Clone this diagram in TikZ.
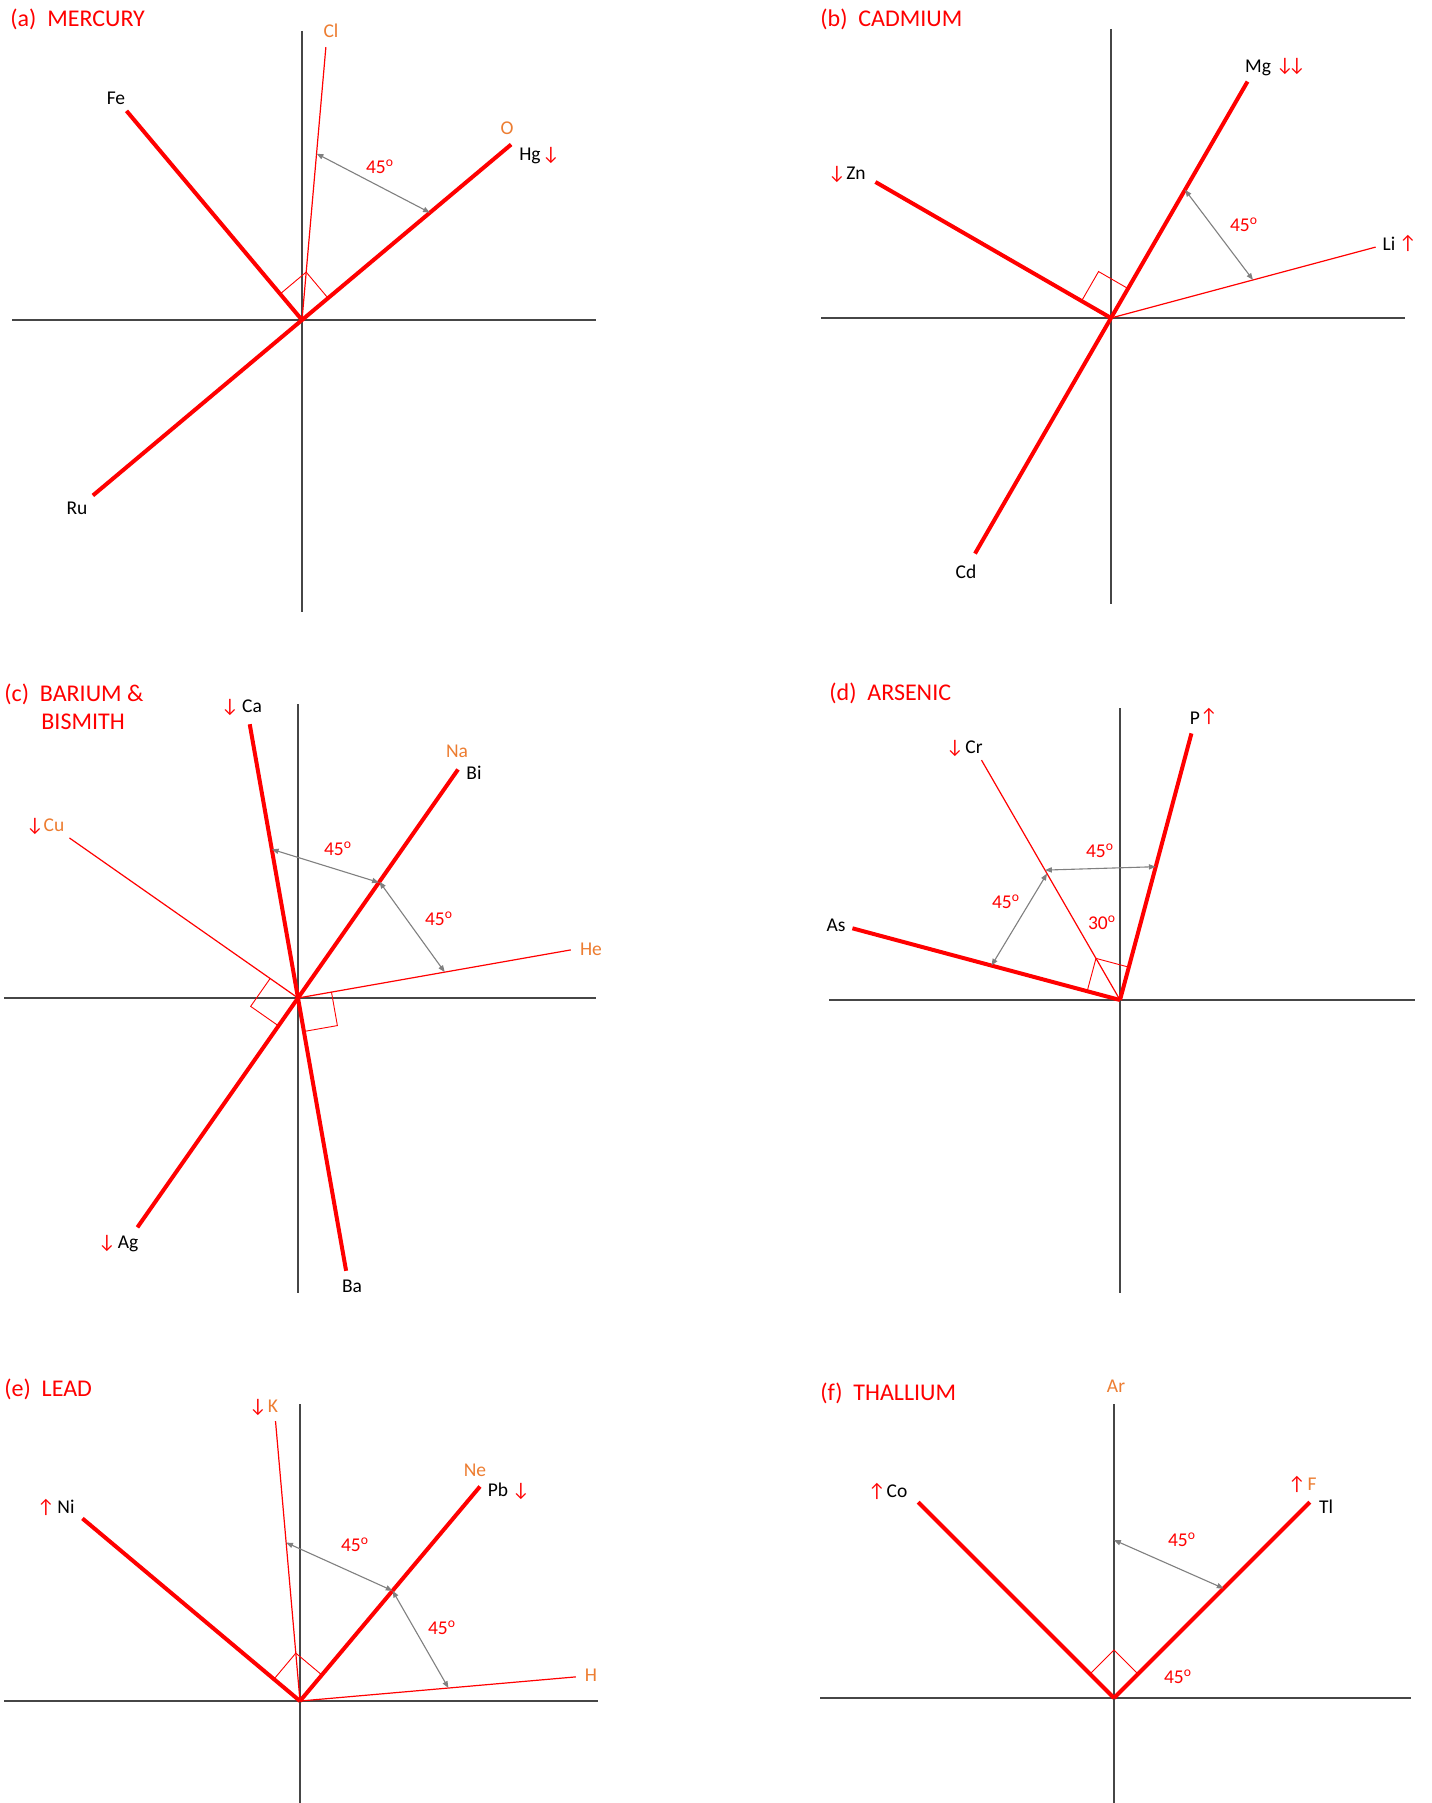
\documentclass[tikz,border=0pt]{standalone}
\usepackage{fontspec}
\setmainfont{Carlito}
\usetikzlibrary{arrows.meta,calc}
\definecolor{orng}{RGB}{237,125,49}
\definecolor{axc}{RGB}{70,70,70}
\definecolor{garr}{RGB}{128,128,128}
\tikzset{
 axisline/.style={draw=axc, line width=0.65pt},
 bond/.style={draw=red, line width=2pt},
 thinbond/.style={draw=red, line width=0.6pt},
 rangle/.style={draw=red, line width=0.45pt},
 angarrow/.style={draw=garr, line width=0.55pt, {Triangle[length=3.4pt,width=2.6pt]}-{Triangle[length=3.4pt,width=2.6pt]}},
 lbl/.style={inner sep=0pt, font=\fontsize{9.75}{11}\selectfont, text height=6.3pt, text depth=0pt, anchor=center},
 olbl/.style={lbl, text=orng},
 rlbl/.style={lbl, text=red},
 ttl/.style={inner sep=0pt, font=\fontsize{12}{14}\selectfont, text=red, anchor=west, text height=7.7pt, text depth=0pt},
}
\newcommand{\degl}{45\textsuperscript{o}}
\begin{document}
\begin{tikzpicture}[x=0.5pt,y=-0.5pt]
\fill[white] (0,0) rectangle (1431,1803);
\useasboundingbox (0,0) rectangle (1431,1803);

% ---------------- (a) MERCURY
\begin{scope}[shift={(302,320)}, yscale=-1]
 \coordinate (aO) at (0,0);
 \coordinate (aN) at (0,289); \coordinate (aS) at (0,-292);
 \coordinate (aW) at (-290,0); \coordinate (aE) at (294,0);
 \draw[axisline] (aN) -- (aS); \draw[axisline] (aW) -- (aE);
 \coordinate (aHg) at (40:273); \coordinate (aRu) at (220:273);
 \coordinate (aFe) at (130:273); \coordinate (aCl) at (85:274);
 \coordinate (aR1) at (130:34); \coordinate (aR2) at (85:48.08); \coordinate (aR3) at (40:34);
 \coordinate (aA1) at (85:167); \coordinate (aA2) at (40:167);
 \draw[thinbond] (aO) -- (aCl);
 \draw[rangle] (aR1) -- (aR2) -- (aR3);
 \draw[bond] (aRu) -- (aHg);
 \draw[bond] (aO) -- (aFe);
 \draw[angarrow] (aA1) -- (aA2);
\end{scope}
\node[ttl] (aT) at (10,19) {(a)\ \ MERCURY};
\node[olbl] (aClL) at (331,31) {Cl};
\node[lbl] (aFeL) at (116,98) {Fe};
\node[olbl] (aOL) at (507,128) {O};
\node[lbl] (aHgL) at (530,154) {Hg};
\node[rlbl] (aHgA) at (551,154) {↓};
\node[lbl] (aRuL) at (77,508) {Ru};
\node[rlbl] (aAng) at (380,167) {\degl};

% ---------------- (b) CADMIUM
\begin{scope}[shift={(1111,318)}, yscale=-1]
 \coordinate (bO) at (0,0);
 \coordinate (bN) at (0,289); \coordinate (bS) at (0,-286);
 \coordinate (bW) at (-290,0); \coordinate (bE) at (294,0);
 \draw[axisline] (bN) -- (bS); \draw[axisline] (bW) -- (bE);
 \coordinate (bMg) at (60:273); \coordinate (bCd) at (240:272);
 \coordinate (bZn) at (150:272); \coordinate (bLi) at (15:274);
 \coordinate (bR1) at (150:34); \coordinate (bR2) at (105:48.08); \coordinate (bR3) at (60:34);
 \coordinate (bA1) at (60:148); \coordinate (bA2) at (15:147);
 \draw[thinbond] (bO) -- (bLi);
 \draw[rangle] (bR1) -- (bR2) -- (bR3);
 \draw[bond] (bCd) -- (bMg);
 \draw[bond] (bO) -- (bZn);
 \draw[angarrow] (bA1) -- (bA2);
\end{scope}
\node[ttl] (bT) at (820,19) {(b)\ \ CADMIUM};
\node[lbl] (bMgL) at (1258,66) {Mg};
\node[rlbl] (bMgA) at (1285,65) {↓};
\node[rlbl] (bMgB) at (1297,65) {↓};
\node[rlbl] (bZnA) at (837,173) {↓};
\node[lbl] (bZnL) at (856,173) {Zn};
\node[lbl] (bLiL) at (1389,244) {Li};
\node[rlbl] (bLiA) at (1408,243) {↑};
\node[lbl] (bCdL) at (966,572) {Cd};
\node[rlbl] (bAng) at (1244,225) {\degl};

% ---------------- (c) BARIUM & BISMITH
\begin{scope}[shift={(298,998)}, yscale=-1]
 \coordinate (cO) at (0,0);
 \coordinate (cN) at (0,294); \coordinate (cS) at (0,-295);
 \coordinate (cW) at (-294,0); \coordinate (cE) at (298,0);
 \draw[axisline] (cN) -- (cS); \draw[axisline] (cW) -- (cE);
 \coordinate (cCa) at (100:278); \coordinate (cBa) at (280:277);
 \coordinate (cBi) at (55:279); \coordinate (cAg) at (235:280);
 \coordinate (cHe) at (10:277); \coordinate (cCu) at (145:279);
 \coordinate (cR1) at (145:34); \coordinate (cR2) at (190:48.08); \coordinate (cR3) at (235:34);
 \coordinate (cQ1) at (10:34); \coordinate (cQ2) at (325:48.08); \coordinate (cQ3) at (280:34);
 \coordinate (cA1) at (100:151); \coordinate (cA2) at (55:141);
 \coordinate (cB1) at (55:142); \coordinate (cB2) at (10:149);
 \draw[thinbond] (cO) -- (cHe);
 \draw[thinbond] (cO) -- (cCu);
 \draw[rangle] (cR1) -- (cR2) -- (cR3);
 \draw[rangle] (cQ1) -- (cQ2) -- (cQ3);
 \draw[bond] (cBa) -- (cCa);
 \draw[bond] (cAg) -- (cBi);
 \draw[angarrow] (cA1) -- (cA2);
 \draw[angarrow] (cB1) -- (cB2);
\end{scope}
\node[ttl] (cT) at (4,694) {(c)\ \ BARIUM \&};
\node[ttl] (cT2) at (41,722) {BISMITH};
\node[rlbl] (cCaA) at (230,706) {↓};
\node[lbl] (cCaL) at (252,706) {Ca};
\node[olbl] (cNaL) at (457,751) {Na};
\node[lbl] (cBiL) at (474,773) {Bi};
\node[rlbl] (cCuA) at (35,825) {↓};
\node[olbl] (cCuL) at (54,825) {Cu};
\node[olbl] (cHeL) at (591,949) {He};
\node[rlbl] (cAgA) at (107,1242) {↓};
\node[lbl] (cAgL) at (128,1242) {Ag};
\node[lbl] (cBaL) at (352,1286) {Ba};
\node[rlbl] (cAng1) at (338,849) {\degl};
\node[rlbl] (cAng2) at (439,919) {\degl};

% ---------------- (d) ARSENIC
\begin{scope}[shift={(1120,1000)}, yscale=-1]
 \coordinate (dO) at (0,0);
 \coordinate (dN) at (0,292); \coordinate (dS) at (0,-293);
 \coordinate (dW) at (-291,0); \coordinate (dE) at (295,0);
 \draw[axisline] (dN) -- (dS); \draw[axisline] (dW) -- (dE);
 \coordinate (dP) at (75:276); \coordinate (dAs) at (165:277); \coordinate (dCr) at (120:277);
 \coordinate (dR1) at (165:34); \coordinate (dR2) at (120:48.08); \coordinate (dR3) at (75:34);
 \coordinate (dA1) at (120:150); \coordinate (dA2) at (75:138);
 \coordinate (dB1) at (120:146); \coordinate (dB2) at (165:133);
 \draw[thinbond] (dO) -- (dCr);
 \draw[rangle] (dR1) -- (dR2) -- (dR3);
 \draw[bond] (dO) -- (dP);
 \draw[bond] (dO) -- (dAs);
 \draw[angarrow] (dA1) -- (dA2);
 \draw[angarrow] (dB1) -- (dB2);
\end{scope}
\node[ttl] (dT) at (829,693) {(d)\ \ ARSENIC};
\node[lbl] (dPL) at (1195,718) {P};
\node[rlbl] (dPA) at (1209,716) {↑};
\node[rlbl] (dCrA) at (955,747) {↓};
\node[lbl] (dCrL) at (974,747) {Cr};
\node[lbl] (dAsL) at (836,925) {As};
\node[rlbl] (dAng1) at (1100,851) {\degl};
\node[rlbl] (dAng2) at (1006,902) {\degl};
\node[rlbl] (dAng3) at (1102,923) {30\textsuperscript{o}};

% ---------------- (e) LEAD
\begin{scope}[shift={(300,1701)}, yscale=-1]
 \coordinate (eO) at (0,0);
 \coordinate (eN) at (0,297); \coordinate (eS) at (0,-102);
 \coordinate (eW) at (-296,0); \coordinate (eE) at (298,0);
 \draw[axisline] (eN) -- (eS); \draw[axisline] (eW) -- (eE);
 \coordinate (eNi) at (140:284); \coordinate (ePb) at (50:280);
 \coordinate (eK) at (95:281); \coordinate (eH) at (5:277);
 \coordinate (eR1) at (140:34); \coordinate (eR2) at (95:48.08); \coordinate (eR3) at (50:34);
 \coordinate (eA1) at (95:159); \coordinate (eA2) at (50:144);
 \coordinate (eB1) at (50:144); \coordinate (eB2) at (5:149);
 \draw[thinbond] (eO) -- (eK);
 \draw[thinbond] (eO) -- (eH);
 \draw[rangle] (eR1) -- (eR2) -- (eR3);
 \draw[bond] (eO) -- (eNi);
 \draw[bond] (eO) -- (ePb);
 \draw[angarrow] (eA1) -- (eA2);
 \draw[angarrow] (eB1) -- (eB2);
\end{scope}
\node[ttl] (eT) at (4,1389) {(e)\ \ LEAD};
\node[rlbl] (eKA) at (258,1406) {↓};
\node[olbl] (eKL) at (273,1406) {K};
\node[olbl] (eNeL) at (475,1470) {Ne};
\node[lbl] (ePbL) at (498,1490) {Pb};
\node[rlbl] (ePbA) at (521,1490) {↓};
\node[rlbl] (eNiA) at (46,1507) {↑};
\node[lbl] (eNiL) at (66,1507) {Ni};
\node[olbl] (eHL) at (591,1675) {H};
\node[rlbl] (eAng1) at (355,1545) {\degl};
\node[rlbl] (eAng2) at (442,1628) {\degl};

% ---------------- (f) THALLIUM
\begin{scope}[shift={(1114,1698)}, yscale=-1]
 \coordinate (fO) at (0,0);
 \coordinate (fN) at (0,294); \coordinate (fS) at (0,-105);
 \coordinate (fW) at (-294,0); \coordinate (fE) at (297,0);
 \draw[axisline] (fN) -- (fS); \draw[axisline] (fW) -- (fE);
 \coordinate (fCo) at (135:277); \coordinate (fTl) at (45:277);
 \coordinate (fR1) at (135:34); \coordinate (fR2) at (90:48.08); \coordinate (fR3) at (45:34);
 \coordinate (fA1) at (90:158); \coordinate (fA2) at (45:155);
 \draw[rangle] (fR1) -- (fR2) -- (fR3);
 \draw[bond] (fO) -- (fCo);
 \draw[bond] (fO) -- (fTl);
 \draw[angarrow] (fA1) -- (fA2);
\end{scope}
\node[ttl] (fT) at (820,1393) {(f)\ \ THALLIUM};
\node[olbl] (fArL) at (1116,1386) {Ar};
\node[rlbl] (fCoA) at (877,1491) {↑};
\node[lbl] (fCoL) at (897,1491) {Co};
\node[rlbl] (fFA) at (1297,1484) {↑};
\node[olbl] (fFL) at (1312,1484) {F};
\node[lbl] (fTlL) at (1326,1507) {Tl};
\node[rlbl] (fAng1) at (1182,1540) {\degl};
\node[rlbl] (fAng2) at (1178,1677) {\degl};
\end{tikzpicture}
\end{document}
